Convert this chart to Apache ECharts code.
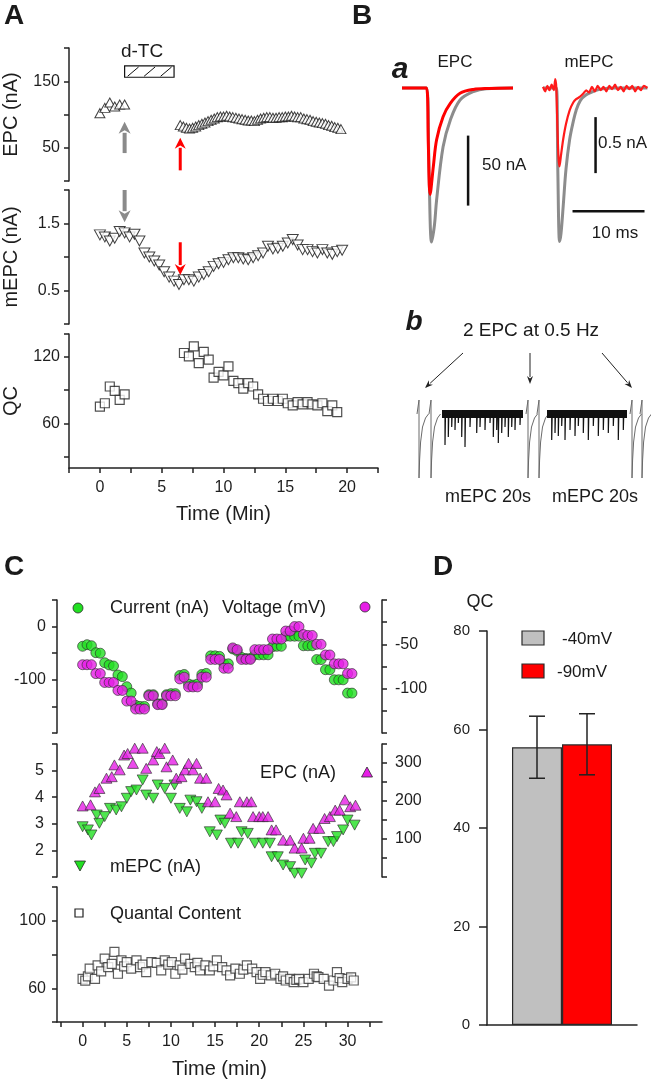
<!DOCTYPE html>
<html><head><meta charset="utf-8">
<script src="https://cdn.jsdelivr.net/npm/echarts@6/dist/echarts.min.js"></script>
<style>html,body{margin:0;padding:0;background:#fff}#wrap{position:relative;width:656px;height:1081px}.layer{position:absolute;left:0;top:0;width:656px;height:1081px}#e{position:absolute;left:0;top:0;font:11px monospace;white-space:pre-wrap;color:#c00;z-index:99}</style>
</head><body><div id="wrap"></div><div id="e"></div><script>
const FONT = "'Liberation Sans', Arial, Helvetica, sans-serif";
const FF = 'Liberation Sans';
// ---------- Panel A ----------
const aEpcBeforeTime = [0, 0.4, 0.8, 1.2, 1.6, 2.0];
const aEpcBefore = [102, 110, 118, 112, 115, 115];
const aEpcAfterTime = [6.5,6.75,7,7.25,7.5,7.75,8,8.25,8.5,8.75,9,9.25,9.5,9.75,10,10.25,10.5,10.75,11,11.25,11.5,11.75,12,12.25,12.5,12.75,13,13.25,13.5,13.75,14,14.25,14.5,14.75,15,15.25,15.5,15.75,16,16.25,16.5,16.75,17,17.25,17.5,17.75,18,18.25,18.5,18.75,19,19.25,19.5];
const aEpcAfter = [84,82,80,79,80,82,84,86,88,90,92,94,96,97,97,98,97,96,95,94,93,92,91,91,90,92,94,95,96,96,95,95,96,96,97,97,98,97,96,96,94,93,92,90,89,88,87,86,84,83,81,80,78];
const aMepcTime = [0,0.4,0.8,1.2,1.6,2,2.4,2.8,3.2,3.6,4,4.4,4.8,5.2,5.6,6,6.4,6.8,7.2,7.6,8,8.4,8.8,9.2,9.6,10,10.4,10.8,11.2,11.6,12,12.4,12.8,13.2,13.6,14,14.4,14.8,15.2,15.6,16,16.4,16.8,17.2,17.6,18,18.4,18.8,19.2,19.6];
const aMepc = [1.33,1.30,1.24,1.28,1.38,1.36,1.30,1.34,1.24,1.06,1.00,0.94,0.88,0.78,0.70,0.64,0.59,0.66,0.66,0.64,0.70,0.74,0.78,0.86,0.90,0.92,0.96,0.99,0.99,0.97,0.96,0.99,1.02,1.06,1.16,1.12,1.13,1.16,1.21,1.26,1.18,1.11,1.11,1.08,1.06,1.11,1.06,1.04,1.08,1.10];
const aQcBeforeTime = [0, 0.4, 0.8, 1.2, 1.6, 2.0];
const aQcBefore = [75, 78, 93, 89, 81, 86];
const aQcAfterTime = [6.8,7.2,7.6,8.0,8.4,8.8,9.2,9.6,10.0,10.4,10.8,11.2,11.6,12.0,12.4,12.8,13.2,13.6,14.0,14.4,14.8,15.2,15.6,16.0,16.4,16.8,17.2,17.6,18.0,18.4,18.8,19.2];
const aQcAfter = [123,120,129,114,124,117,101,106,103,111,98,96,91,96,93,86,82,80,82,80,82,78,76,79,77,79,77,76,78,71,76,70];
const aTimeTicks = [-2.5,0,2.5,5,7.5,10,12.5,15,17.5,20,22.5];
const aTimeLabels = [0,5,10,15,20];
const aDtc = [2, 6];            // d-TC application (min)
const aArrowTimes = [2, 6.5];   // gray / red arrows (min)
// ---------- Panel B ----------
const baEpcGrayT = [0,3.4,3.75,4.1,4.5,4.8,5.7,6.7,8.05,9.9,11.7,15.4];
const baEpcGrayV = [0,0,-60,-110,-98,-80,-42,-23,-8.6,-2.6,-0.5,0];
const baEpcRedT = [0,3.4,3.65,3.9,4.35,4.8,5.7,6.7,8.05,9.9,12,15.4];
const baEpcRedV = [0,0,-40,-76,-56,-37,-20.5,-11,-3.8,-1,-0.3,0];
const baMepcGrayT = [0,1.85,2.05,2.3,2.5,2.8,3.2,3.7,4.2,4.6,5.2,6,7,8,10,14.5];
const baMepcGrayV = [0,0,-0.7,-1.37,-1.3,-1.06,-0.72,-0.46,-0.3,-0.2,-0.11,-0.06,-0.03,-0.01,0,0];
const baMepcRedT = [0,0.3,0.6,0.9,1.2,1.5,1.7,1.85,2.0,2.15,2.3,2.5,2.8,3.2,3.7,4.2,4.6,5.1,5.6,6.0,6.4,6.8,7.2,7.6,8.0,8.4,8.8,9.2,9.6,10,10.4,10.8,11.2,11.6,12,12.4,12.8,13.2,13.6,14,14.5];
const baMepcRedV = [0.01,-0.03,0.02,-0.02,0.03,-0.02,0.08,0,-0.35,-0.62,-0.7,-0.6,-0.46,-0.32,-0.2,-0.13,-0.1,-0.08,-0.05,-0.02,-0.04,0.01,-0.03,0.02,-0.02,0.01,-0.03,0.02,-0.01,0.03,-0.02,0.01,-0.03,0.02,-0.01,0.02,-0.03,0.01,-0.02,0.02,0];
const baScaleEpc = {t: 9.17, from: -34, size: 50};      // 50 nA
const baScaleMepc = {t: 7.3, from: -0.26, size: 0.5};   // 0.5 nA
const baScaleTime = {from: 4.1, size: 10, level: -1.1}; // 10 ms
const bbEpcPos = [9, 21, 118, 129, 222, 232];
const bbEpcShapeDx = [-2, 0, 0, 0, 0.6, 1.6, 3.5, 6.5, 9.5];
const bbEpcShapeDy = [0, 0, 14, -64, -46, -28, -13, -4, 0];
const bbBlockStart = [32, 137];
const bbBlockEnd = [113, 217];
const bbEventPos = [35,38.3,41.7,45,48.3,51.7,55,60,66.7,70,75,80,83.3,86.7,88.3,91.7,95,98.3,101.7,105,110,141.7,145,148.3,151.7,155,160,165,168.3,173.3,178.3,183.3,188.3,193.3,198.3,203.3,208.3,213.3];
const bbEventDepth = [-31,-23,-13,-16,-9,-23,-33,-13,-19,-13,-16,-9,-23,-16,-29,-19,-13,-23,-13,-16,-11,-26,-19,-22,-12,-26,-16,-22,-12,-19,-26,-12,-22,-16,-19,-12,-26,-16];
// ---------- Panel C ----------
const c1Time = [0,0.5,1,1.5,2,2.5,3,3.5,4,4.5,5,5.5,6,6.5,7,7.5,8,8.5,9,9.5,10,10.5,11,11.5,12,12.5,13,13.5,14,14.5,15,15.5,16,16.5,17,17.5,18,18.5,19,19.5,20,20.5,21,21.5,22,22.5,23,23.5,24,24.5,25,25.5,26,26.5,27,27.5,28,28.5,29,29.5,30,30.5];
const c1Voltage = [-73,-73,-73,-83,-83,-93,-93,-93,-102,-102,-114,-114,-123,-123,-123,-108,-108,-118,-118,-108,-108,-108,-89,-87,-98,-98,-98,-87,-87,-67,-67,-67,-77,-77,-54,-56,-67,-67,-67,-56,-56,-56,-56,-44,-44,-44,-35,-35,-30,-30,-39,-40,-40,-50,-50,-62,-62,-72,-72,-72,-83,-83];
const c1Current = [-37,-34,-36,-49,-50,-68,-72,-74,-91,-94,-113,-125,-148,-150,-150,-128,-128,-145,-145,-128,-126,-126,-92,-90,-108,-110,-108,-90,-88,-55,-55,-56,-70,-70,-42,-46,-58,-60,-60,-53,-53,-53,-53,-38,-37,-37,-18,-18,-18,-18,-36,-36,-36,-62,-62,-81,-81,-100,-100,-100,-125,-125];
const c2EpcTime = [0,0.9,1.4,1.9,2.7,3.3,3.6,4.2,4.7,5.1,5.7,5.9,6.8,7.2,8,8.4,8.7,9.3,9.5,10.2,10.6,11.2,11.6,12,12.5,12.9,13.3,14,14.2,15,15.4,15.9,16.3,16.7,17.4,17.8,18.6,19.1,19.3,20,20.4,21,21.4,21.9,22.7,23.5,24,24.8,25,25.7,26.1,26.8,27.4,28,28.6,29.1,29.7,30.3,30.9];
const c2Epc = [187,190,224,233,260,264,295,282,321,325,299,339,339,286,308,330,325,339,290,308,260,264,282,299,282,299,260,260,198,198,233,229,216,168,159,198,198,198,159,159,159,159,124,124,97,97,76,76,102,102,128,128,154,159,176,176,203,185,189];
const c2MepcTime = [0,0.6,1,1.6,1.9,2.5,3.1,3.8,4.4,5,5.5,6.1,6.8,7.2,8,8.5,9.3,10,10.4,11,11.8,12.2,12.9,13.5,14.4,15.2,15.6,16.1,16.8,17.6,18,18.7,19.5,20.4,21.2,21.4,22.1,22.7,23.5,24,24.8,25.2,25.9,26.3,27,27.8,28.4,28.8,29.5,30,30.8];
const c2Mepc = [2.89,2.77,2.58,3.33,3.02,3.27,3.58,3.52,3.64,3.96,4.21,4.27,4.65,4.08,3.96,4.46,4.33,3.96,4.46,3.58,3.45,3.89,3.83,3.58,2.70,2.58,3.14,3.02,2.27,2.27,2.70,2.64,2.27,2.27,2.27,1.76,1.76,1.45,1.39,1.14,1.14,1.64,1.52,1.89,1.89,2.33,2.33,2.52,2.77,3.14,2.95];
const c3Time = [0,0.3,0.6,0.8,1.4,1.7,2.1,2.5,2.9,3.3,3.6,4,4.4,4.7,5,5.5,6.1,6.5,6.8,7.2,7.8,8.4,8.9,9.3,9.7,10.1,10.5,11,11.3,11.6,12.2,12.7,13,13.3,13.9,14.4,14.8,15.2,15.8,16.3,16.7,17.3,17.8,18.2,18.6,19.2,19.7,20.1,20.4,20.7,21.3,21.8,22.4,22.7,23,23.5,23.9,24.2,24.5,25,25.6,26.2,26.5,26.7,27.3,27.9,28.4,28.8,29.1,29.4,30,30.4,30.7];
const c3Qc = [65.6,64.5,67,71.6,65.6,73.5,70,77.5,72.5,74.5,81.5,68.6,76.5,73,75.5,71.6,76.5,72.5,74,69.5,75.5,75,70.6,76.5,74,75.5,68.6,73.5,71,77.5,74.5,72.5,75,70.6,73.5,70.6,73,76.5,72.5,70.6,67.6,71.6,68.6,71,73.5,71.6,69.5,65.6,68,69.5,67.6,68.6,65.6,67,64.6,65.6,63.6,65,65.6,63.6,65.6,68.6,67,66.6,65.6,61.6,64.6,69.5,66,63.6,65.6,66.5,64.6];
const cTimeTicks = [-2.5,0,2.5,5,7.5,10,12.5,15,17.5,20,22.5,25,27.5,30,32.5];
const cTimeLabels = [0,5,10,15,20,25,30];
// ---------- Panel D ----------
const dCategories = ['QC'];
const dSeriesNames = ['-40mV', '-90mV'];
const dMeans = [56.4, 57.0];
const dSem = [6.3, 6.2];
const dColors = ['#c0c0c0', '#ff0000'];

const zip = (xs, ys) => xs.map((x, i) => [x, ys[i]]);
const AX = '#222';
const errBox = document.getElementById('e');
const wrap = document.getElementById('wrap');
const lbl = (extra) => Object.assign({fontSize: 16, color: '#1e1e1e', fontFamily: FF}, extra || {});
const hid = (min, max) => ({type: 'value', min, max, show: false});
function yAx(min, max, ticks, labels, extra) {
  const base = {type: 'value', min, max,
    axisLine: {show: true, onZero: false, lineStyle: {color: AX, width: 1.5}},
    axisTick: {show: true, customValues: ticks, length: 5, lineStyle: {color: AX, width: 1.5}},
    axisLabel: lbl({customValues: labels, margin: 11}),
    splitLine: {show: false}};
  if (extra) for (const k in extra) {
    if (typeof extra[k] === 'object' && base[k] && !Array.isArray(extra[k])) base[k] = Object.assign({}, base[k], extra[k]);
    else base[k] = extra[k];
  }
  return base;
}
function xAx(min, max, ticks, labels, name, gap) {
  return {type: 'value', min, max,
    axisLine: {show: true, onZero: false, lineStyle: {color: AX, width: 1.5}},
    axisTick: {show: true, customValues: ticks, length: 5, lineStyle: {color: AX, width: 1.5}},
    axisLabel: lbl({customValues: labels, margin: 12}),
    splitLine: {show: false},
    name, nameLocation: 'middle', nameGap: gap, nameTextStyle: {fontSize: 20, color: '#1e1e1e', fontFamily: FF}};
}
const yName = (name) => ({name, nameLocation: 'middle', nameGap: 48, nameTextStyle: {fontSize: 20, color: '#1e1e1e', fontFamily: FF}, axisLabel: {margin: 9}});
function make(name, grid, xAxis, yAxis, series) {
  const d = document.createElement('div'); d.className = 'layer'; wrap.appendChild(d);
  const c = echarts.init(d, null, {renderer: 'canvas'});
  try { c.setOption({animation: false, textStyle: {fontFamily: FF}, grid: [grid], xAxis: [xAxis], yAxis: Array.isArray(yAxis) ? yAxis : [yAxis], series}); }
  catch (e) { errBox.textContent += name + ': ' + e.message + '\n'; }
  return c;
}
const hollow = {color: '#fff', borderColor: '#111', borderWidth: 1};
const GREEN = '#22e022', MAG = '#e61ee6';
const filled = (c) => ({color: c, borderColor: '#2a2a2a', borderWidth: 0.8});
const sc = (data, symbol, size, style, extra) => Object.assign({type: 'scatter', data, symbol, symbolSize: size, itemStyle: style}, extra || {});
const ln = (data, color, width, extra) => Object.assign({type: 'line', data, showSymbol: false, lineStyle: {color, width}}, extra || {});
const BAR_W = 50;

// Panel A
const chA1 = make('A1', {left: 69, top: 48, width: 309, height: 133}, hid(-2.5, 22.5),
  yAx(0, 200, [0, 50, 100, 150, 200], [50, 150], yName('EPC (nA)')),
  [sc(zip(aEpcBeforeTime, aEpcBefore), 'triangle', [10, 9], hollow), sc(zip(aEpcAfterTime, aEpcAfter), 'triangle', [10, 9], hollow)]);
const chA2 = make('A2', {left: 69, top: 190, width: 309, height: 134}, hid(-2.5, 22.5),
  yAx(0, 2, [0, 0.5, 1, 1.5, 2], [0.5, 1.5], yName('mEPC (nA)')),
  [sc(zip(aMepcTime, aMepc), 'triangle', [11, 10], hollow, {symbolRotate: 180})]);
make('A3', {left: 69, top: 334, width: 309, height: 134}, xAx(-2.5, 22.5, aTimeTicks, aTimeLabels, 'Time (Min)', 36),
  yAx(20, 140, [30, 60, 90, 120, 140], [60, 120], yName('QC')),
  [sc(zip(aQcBeforeTime, aQcBefore), 'rect', 9, {color: '#fff', borderColor: '#222', borderWidth: 1.2}),
   sc(zip(aQcAfterTime, aQcAfter), 'rect', 9, {color: '#fff', borderColor: '#222', borderWidth: 1.2})]);
// Panel B
const chBa1 = make('Ba1', {left: 402, top: 74, width: 111, height: 182}, hid(0, 15.4), hid(-120, 10),
  [ln(zip(baEpcGrayT, baEpcGrayV), '#8c8c8c', 3, {smooth: 0.35}), ln(zip(baEpcRedT, baEpcRedV), '#ff0000', 3, {smooth: 0.35})]);
const chBa2 = make('Ba2', {left: 543, top: 76.8, width: 104.4, height: 179.2}, hid(0, 14.5), hid(-1.5, 0.1),
  [ln(zip(baMepcGrayT, baMepcGrayV), '#8c8c8c', 3, {smooth: 0.35}), ln(zip(baMepcRedT, baMepcRedV), '#ff1a1a', 2.2, {smooth: 0.2})]);
const bbEpcTrace = [];
bbEpcPos.forEach(p => { bbEpcShapeDx.forEach((dx, i) => bbEpcTrace.push([p + dx, bbEpcShapeDy[i]])); bbEpcTrace.push([p + 10, '-']); });
const bbBand = [];
bbBlockStart.forEach((s, i) => { bbBand.push([s, 0], [bbBlockEnd[i], 0], [bbBlockEnd[i] + 0.5, '-']); });
const bbEvents = [];
bbEventPos.forEach((x, i) => { bbEvents.push([x, 0], [x, bbEventDepth[i]], [x + 0.5, 0], [x + 0.6, '-']); });
make('Bb', {left: 410, top: 394, width: 240, height: 90}, hid(0, 240), hid(-70, 20),
  [ln(bbEpcTrace, '#6a6a6a', 1, {connectNulls: false}), ln(bbBand, '#111', 8, {connectNulls: false}), ln(bbEvents, '#111', 1.2, {connectNulls: false})]);
// Panel C
make('C1', {left: 57, top: 600, width: 325, height: 133}, hid(-2.9, 33.9),
  [yAx(-200, 50, [-200, -150, -100, -50, 0, 50], [-100, 0]), yAx(-150, 0, [-150, -125, -100, -75, -50, -25, 0], [-100, -50], {position: 'right', axisLabel: {margin: 13}})],
  [sc(zip(c1Time, c1Current), 'circle', 10, filled(GREEN)), sc(zip(c1Time, c1Voltage), 'circle', 10, filled(MAG), {yAxisIndex: 1})]);
make('C2', {left: 57, top: 744, width: 325, height: 133}, hid(-2.9, 33.9),
  [yAx(1, 6, [1, 2, 3, 4, 5, 6], [2, 3, 4, 5], {axisLabel: {margin: 13}}), yAx(0, 350, [0, 50, 100, 150, 200, 250, 300, 350], [100, 200, 300], {position: 'right', axisLabel: {margin: 13}})],
  [sc(zip(c2MepcTime, c2Mepc), 'triangle', [11, 10], filled(GREEN), {symbolRotate: 180}), sc(zip(c2EpcTime, c2Epc), 'triangle', [11, 10], filled(MAG), {yAxisIndex: 1})]);
make('C3', {left: 57, top: 887, width: 325, height: 135}, xAx(-2.9, 33.9, cTimeTicks, cTimeLabels, 'Time (min)', 37),
  yAx(40, 120, [40, 60, 80, 100, 120], [60, 100]),
  [sc(zip(c3Time, c3Qc), 'rect', 9, {color: '#fff', borderColor: '#333', borderWidth: 1.2})]);
// Panel D
const dSeries = dMeans.map((m, k) => ({type: 'bar', name: dSeriesNames[k], data: [m], barWidth: BAR_W, barGap: '0%', itemStyle: {color: dColors[k], borderColor: '#2a2a2a', borderWidth: 1.2}}));
dMeans.forEach((m, k) => {
  dSeries.push({type: 'custom', z: 10, data: [[0, m, dSem[k]]],
    renderItem: (params, api) => {
      const off = (k === 0 ? -1 : 1) * BAR_W / 2;
      const top = api.coord([api.value(0), api.value(1) + api.value(2)]);
      const bot = api.coord([api.value(0), api.value(1) - api.value(2)]);
      const x = top[0] + off, cw = 8, st = {stroke: '#222', lineWidth: 1.5};
      return {type: 'group', children: [
        {type: 'line', shape: {x1: x, y1: top[1], x2: x, y2: bot[1]}, style: st},
        {type: 'line', shape: {x1: x - cw, y1: top[1], x2: x + cw, y2: top[1]}, style: st},
        {type: 'line', shape: {x1: x - cw, y1: bot[1], x2: x + cw, y2: bot[1]}, style: st}]};
    }});
});
make('D', {left: 487, top: 631, width: 150, height: 394},
  {type: 'category', data: dCategories, axisLine: {show: true, lineStyle: {color: AX, width: 1.5}}, axisTick: {show: false}, axisLabel: {show: false}, splitLine: {show: false}},
  yAx(0, 80, [0, 20, 40, 60, 80], [0, 20, 40, 60, 80], {axisTick: {length: 8}, axisLabel: {fontSize: 15, margin: 17}}), dSeries);

// ---------- annotations overlay ----------
function txt(x, y, text, size, o) {
  o = o || {};
  return {type: 'text', x, y, silent: true, style: {text, font: (o.italic ? 'italic ' : '') + (o.weight || 'normal') + ' ' + size + 'px ' + FONT,
    fill: o.fill || '#1a1a1a', textAlign: o.align || 'center', textVerticalAlign: o.valign || 'middle'}};
}
function arrow(p0, p1, color, w, hl, hw) {
  const dx = p1[0] - p0[0], dy = p1[1] - p0[1], L = Math.hypot(dx, dy), ux = dx / L, uy = dy / L;
  const bx = p1[0] - ux * hl, by = p1[1] - uy * hl;
  return [
    {type: 'line', silent: true, shape: {x1: p0[0], y1: p0[1], x2: bx + ux, y2: by + uy}, style: {stroke: color, lineWidth: w}},
    {type: 'polygon', silent: true, shape: {points: [[p1[0], p1[1]], [bx - uy * hw / 2, by + ux * hw / 2], [bx + ux * hl * 0.3, by + uy * hl * 0.3], [bx + uy * hw / 2, by - ux * hw / 2]]}, style: {fill: color}}
  ];
}
const pt = (c, x, y) => c.convertToPixel({gridIndex: 0}, [x, y]);
try {
  const G = [];
  G.push(txt(14, 16, 'A', 28, {weight: 'bold'}), txt(362, 16, 'B', 28, {weight: 'bold'}), txt(14, 567, 'C', 28, {weight: 'bold'}), txt(443, 567, 'D', 28, {weight: 'bold'}));
  G.push(txt(400, 55, 'a', 30, {weight: 'bold', italic: true, valign: 'alphabetic'}), txt(414, 308, 'b', 28, {weight: 'bold', italic: true, valign: 'alphabetic'}));
  const b0 = pt(chA1, aDtc[0], 173), b1 = pt(chA1, aDtc[1], 156);
  G.push({type: 'rect', silent: true, shape: {x: b0[0], y: b0[1], width: b1[0] - b0[0], height: b1[1] - b0[1]}, style: {fill: '#fff', stroke: '#111', lineWidth: 1.2}});
  for (let i = 0; i < 3; i++) {
    const xl = b0[0] + 3 + i * 16.5;
    G.push({type: 'line', silent: true, shape: {x1: xl, y1: b1[1] - 1, x2: xl + 11, y2: b0[1] + 1}, style: {stroke: '#111', lineWidth: 1}});
  }
  G.push(txt(142, 52, 'd-TC', 19));
  G.push(...arrow(pt(chA1, aArrowTimes[0], 42), pt(chA1, aArrowTimes[0], 89), '#8a8a8a', 4, 12, 12));
  G.push(...arrow(pt(chA1, aArrowTimes[1], 16), pt(chA1, aArrowTimes[1], 65), '#ff0000', 3, 11, 11));
  G.push(...arrow(pt(chA2, aArrowTimes[0], 2.0), pt(chA2, aArrowTimes[0], 1.52), '#8a8a8a', 4, 12, 12));
  G.push(...arrow(pt(chA2, aArrowTimes[1], 1.22), pt(chA2, aArrowTimes[1], 0.73), '#ff0000', 3, 11, 11));
  G.push(txt(455, 62, 'EPC', 17), txt(589, 62, 'mEPC', 17));
  const bar = (p, q) => ({type: 'line', silent: true, shape: {x1: p[0], y1: p[1], x2: q[0], y2: q[1]}, style: {stroke: '#111', lineWidth: 2.5}});
  G.push(bar(pt(chBa1, baScaleEpc.t, baScaleEpc.from), pt(chBa1, baScaleEpc.t, baScaleEpc.from - baScaleEpc.size)));
  G.push(bar(pt(chBa2, baScaleMepc.t, baScaleMepc.from), pt(chBa2, baScaleMepc.t, baScaleMepc.from - baScaleMepc.size)));
  G.push(bar(pt(chBa2, baScaleTime.from, baScaleTime.level), pt(chBa2, baScaleTime.from + baScaleTime.size, baScaleTime.level)));
  G.push(txt(482, 165, '50 nA', 17, {align: 'left'}), txt(598, 143, '0.5 nA', 17, {align: 'left'}), txt(615, 233, '10 ms', 17));
  G.push(txt(531, 331, '2 EPC at 0.5 Hz', 19));
  G.push(...arrow([463, 353], [425, 388], '#222', 1, 8, 6), ...arrow([530, 353], [530, 384], '#222', 1, 8, 6), ...arrow([602, 353], [632, 388], '#222', 1, 8, 6));
  G.push(txt(488, 497, 'mEPC 20s', 18), txt(595, 497, 'mEPC 20s', 18));
  G.push({type: 'circle', silent: true, shape: {cx: 78, cy: 608, r: 5}, style: {fill: GREEN, stroke: '#2a2a2a', lineWidth: 0.8}});
  G.push(txt(110, 608, 'Current (nA)', 18, {align: 'left'}), txt(222, 608, 'Voltage (mV)', 18, {align: 'left'}));
  G.push({type: 'circle', silent: true, shape: {cx: 365, cy: 607, r: 5}, style: {fill: MAG, stroke: '#2a2a2a', lineWidth: 0.8}});
  G.push(txt(260, 773, 'EPC (nA)', 18, {align: 'left'}));
  G.push({type: 'polygon', silent: true, shape: {points: [[367, 767], [361.5, 777], [372.5, 777]]}, style: {fill: MAG, stroke: '#2a2a2a', lineWidth: 0.8}});
  G.push({type: 'polygon', silent: true, shape: {points: [[80, 871], [74.5, 861], [85.5, 861]]}, style: {fill: GREEN, stroke: '#2a2a2a', lineWidth: 0.8}});
  G.push(txt(110, 867, 'mEPC (nA)', 18, {align: 'left'}));
  G.push({type: 'rect', silent: true, shape: {x: 75, y: 909, width: 8, height: 8}, style: {fill: '#fff', stroke: '#222', lineWidth: 1.2}});
  G.push(txt(110, 914, 'Quantal Content', 18, {align: 'left'}));
  G.push(txt(480, 602, 'QC', 18));
  G.push({type: 'rect', silent: true, shape: {x: 522, y: 631, width: 22, height: 14}, style: {fill: dColors[0], stroke: '#2a2a2a', lineWidth: 1.2}});
  G.push(txt(562, 639, dSeriesNames[0], 17, {align: 'left'}));
  G.push({type: 'rect', silent: true, shape: {x: 522, y: 664, width: 22, height: 14}, style: {fill: dColors[1], stroke: '#2a2a2a', lineWidth: 1.2}});
  G.push(txt(557, 672, dSeriesNames[1], 17, {align: 'left'}));
  const d = document.createElement('div'); d.className = 'layer'; wrap.appendChild(d);
  const ov = echarts.init(d, null, {renderer: 'canvas'});
  ov.setOption({animation: false, graphic: {elements: G}});
} catch (e) { errBox.textContent += 'overlay: ' + e.message + '\n'; }
</script></body></html>
